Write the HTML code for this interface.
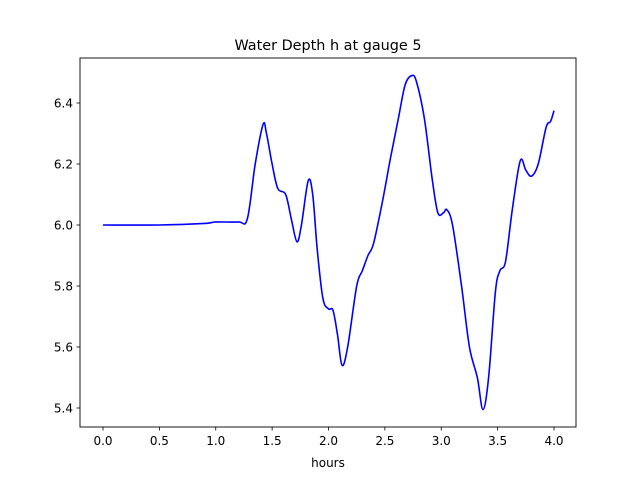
<!DOCTYPE html>
<html><head><meta charset="utf-8"><style>
body{margin:0;background:#fff}
svg{display:block;font-family:"DejaVu Sans","Liberation Sans",sans-serif}
</style></head><body>
<svg id="chart" width="640" height="480" viewBox="0 0 640 480">
<rect width="640" height="480" fill="#fff"/>
<text x="328" y="50" font-size="14.4" text-anchor="middle">Water Depth h at gauge 5</text>
<g id="ticks"></g>
<path id="line" fill="none" stroke="#0000ff" stroke-width="1.6"/>
<rect x="80" y="58" width="496" height="369" fill="none" stroke="#000" stroke-width="0.9"/>
<text x="328" y="467" font-size="12" text-anchor="middle">hours</text>
</svg>
<script>
const hours=[0,0.5,0.9,1.0,1.2,1.28,1.35,1.42,1.45,1.5,1.55,1.62,1.67,1.72,1.76,1.82,1.86,1.9,1.95,2.0,2.04,2.08,2.12,2.17,2.25,2.3,2.35,2.4,2.48,2.55,2.62,2.68,2.74,2.78,2.85,2.92,2.97,3.02,3.05,3.1,3.18,3.25,3.32,3.37,3.42,3.48,3.52,3.57,3.63,3.7,3.75,3.8,3.86,3.93,3.97,4.0];
const depth=[6.0,6.0,6.005,6.01,6.01,6.02,6.2,6.33,6.3,6.2,6.12,6.1,6.02,5.945,6.0,6.145,6.1,5.92,5.76,5.725,5.72,5.64,5.54,5.6,5.8,5.85,5.9,5.94,6.08,6.22,6.35,6.46,6.49,6.47,6.35,6.15,6.04,6.04,6.05,6.0,5.8,5.6,5.5,5.395,5.5,5.78,5.85,5.88,6.05,6.21,6.18,6.16,6.2,6.32,6.34,6.375];
const xTicks=[0,0.5,1.0,1.5,2.0,2.5,3.0,3.5,4.0];
const yTicks=[5.4,5.6,5.8,6.0,6.2,6.4];
const xs=v=>103+v*112.75;
const ys=v=>225-(v-6.0)*305;
const NS="http://www.w3.org/2000/svg";
const g=document.getElementById('ticks');
function mk(t,a){const e=document.createElementNS(NS,t);for(const k in a)e.setAttribute(k,a[k]);g.appendChild(e);return e;}
xTicks.forEach(v=>{
 const l=mk('line',{x1:xs(v),x2:xs(v),y1:427,y2:430.5,stroke:'#000','stroke-width':0.8});
 
 
 const t=mk('text',{x:xs(v),y:445,'font-size':12,'text-anchor':'middle'});
 
 
 t.textContent=v.toFixed(1);
});
yTicks.forEach(v=>{
 const l=mk('line',{x1:76.5,x2:80,y1:ys(v),y2:ys(v),stroke:'#000','stroke-width':0.8});
 
 
 const t=mk('text',{x:73,y:ys(v)+4.5,'font-size':12,'text-anchor':'end'});
 
 
 t.textContent=v.toFixed(1);
});
const P=hours.map((h,i)=>[xs(h),ys(depth[i])]);
let d='M'+P[0][0]+','+P[0][1];
for(let i=0;i<P.length-1;i++){
 const p0=P[i-1]||P[i],p1=P[i],p2=P[i+1],p3=P[i+2]||p2;
 const c1=[p1[0]+(p2[0]-p0[0])/6,p1[1]+(p2[1]-p0[1])/6];
 const c2=[p2[0]-(p3[0]-p1[0])/6,p2[1]-(p3[1]-p1[1])/6];
 d+=' C'+c1[0]+','+c1[1]+' '+c2[0]+','+c2[1]+' '+p2[0]+','+p2[1];
}
document.getElementById('line').setAttribute('d',d);
</script>
</body></html>
